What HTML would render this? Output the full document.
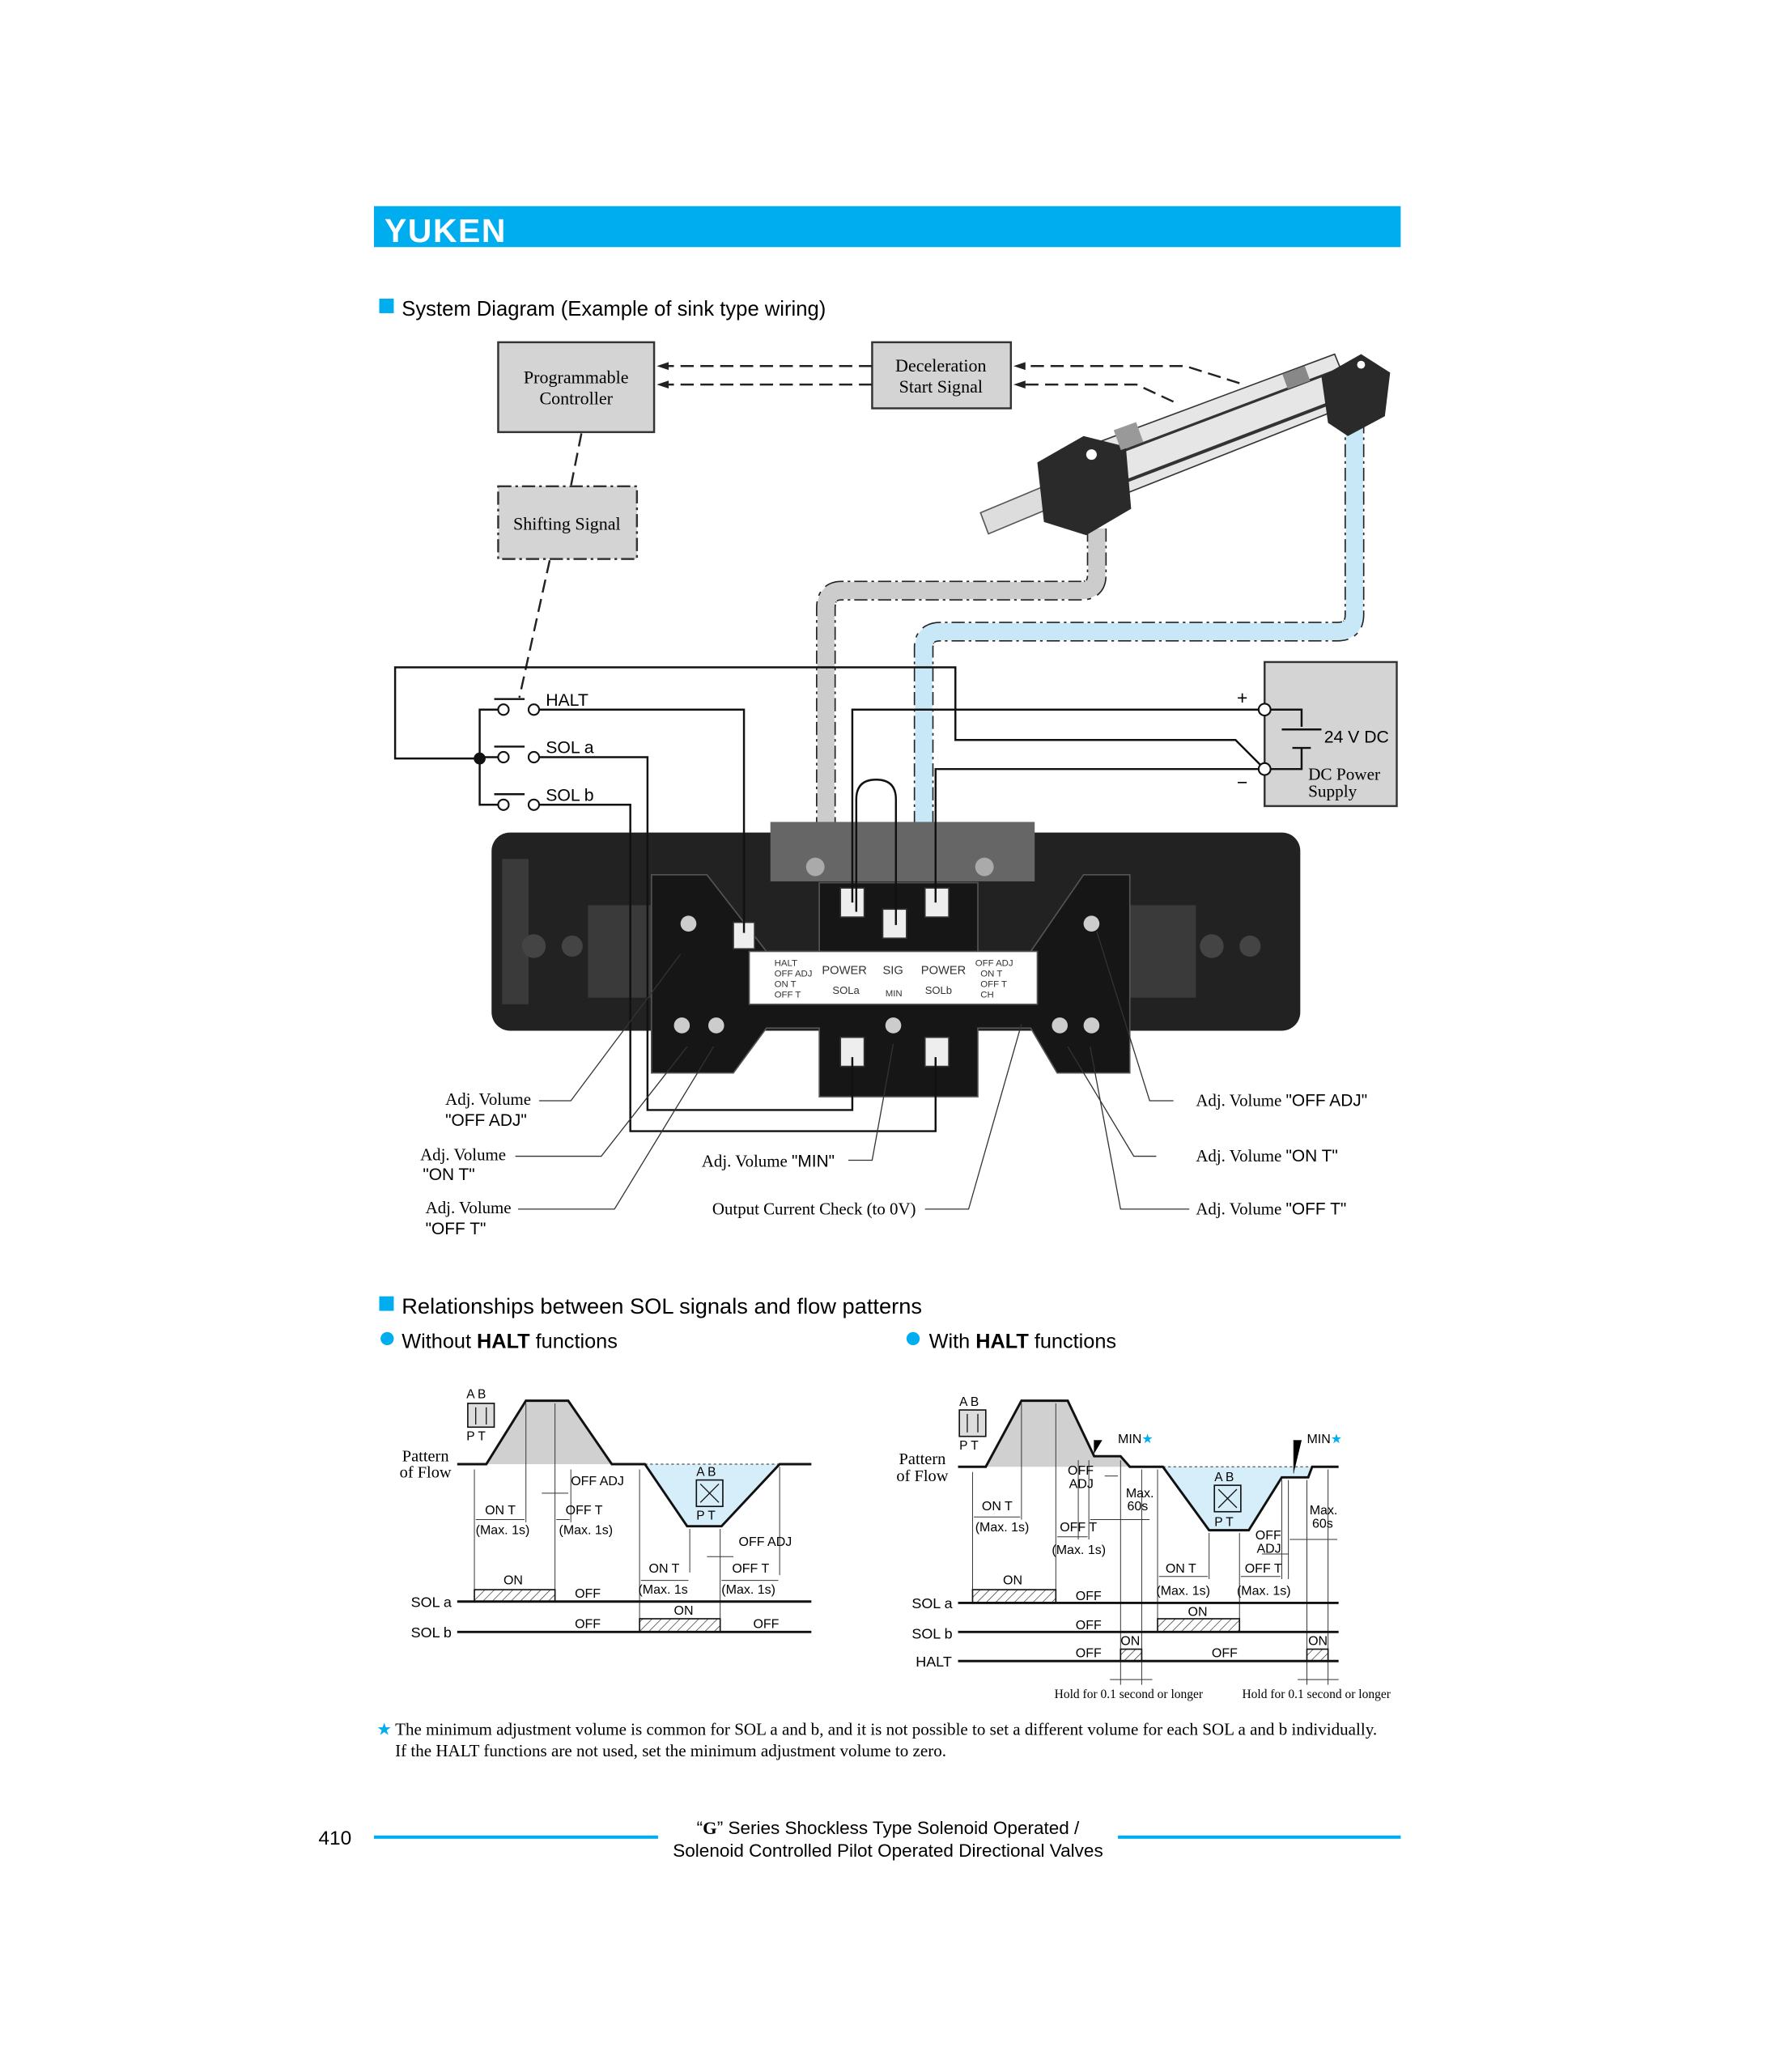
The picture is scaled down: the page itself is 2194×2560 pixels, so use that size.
<!DOCTYPE html>
<html><head><meta charset="utf-8"><style>
html,body{margin:0;padding:0;background:#fff}
svg{display:block}
.s{font-family:"Liberation Sans",sans-serif}
.r{font-family:"Liberation Serif",serif}
</style></head><body>
<svg width="2194" height="2560" viewBox="0 0 1344 1568" preserveAspectRatio="none" xmlns="http://www.w3.org/2000/svg">
<defs>
<pattern id="h" width="5" height="5" patternUnits="userSpaceOnUse" patternTransform="rotate(45)"><line x1="0" y1="0" x2="0" y2="5" stroke="#222" stroke-width="0.8"/></pattern>
</defs>
<rect width="1344" height="1568" fill="#fff"/>
<!-- header -->
<rect x="283" y="156" width="777" height="31" fill="#00aeef"/>
<text x="291" y="183" class="s" font-size="25" font-weight="bold" fill="#fff" letter-spacing="1">YUKEN</text>
<rect x="287" y="226" width="11" height="11" fill="#00aeef"/>
<text x="304" y="239" class="s" font-size="15.7">System Diagram (Example of sink type wiring)</text>

<!-- boxes -->
<rect x="377" y="259" width="118" height="68" fill="#d4d4d4" stroke="#333" stroke-width="1.5"/>
<text x="436" y="290" class="r" font-size="13.5" text-anchor="middle">Programmable</text>
<text x="436" y="306" class="r" font-size="13.5" text-anchor="middle">Controller</text>
<rect x="660" y="259" width="105" height="50" fill="#d4d4d4" stroke="#333" stroke-width="1.5"/>
<text x="712" y="281" class="r" font-size="13.5" text-anchor="middle">Deceleration</text>
<text x="712" y="297" class="r" font-size="13.5" text-anchor="middle">Start Signal</text>
<rect x="377" y="368" width="105" height="55" fill="#d4d4d4" stroke="#333" stroke-width="1.5" stroke-dasharray="10,3,2,3"/>
<text x="429" y="401" class="r" font-size="13.5" text-anchor="middle">Shifting Signal</text>

<g stroke="#222" stroke-width="1.5" fill="none" stroke-dasharray="10,5">
<line x1="660" y1="277" x2="503" y2="277"/><line x1="660" y1="291" x2="503" y2="291"/>
<polyline points="938,290 897,277 773,277"/><polyline points="888,304 860,291 773,291"/>
<line x1="440" y1="328" x2="432" y2="368"/><line x1="416" y1="424" x2="393" y2="528"/>
</g>
<g fill="#222"><path d="M497,277 l9,-3 v6z"/><path d="M497,291 l9,-3 v6z"/><path d="M767,277 l9,-3 v6z"/><path d="M767,291 l9,-3 v6z"/></g>

<!-- cables -->
<path d="M830,400 V435 Q830,447 818,447 H637 Q625,447 625,460 V630" fill="none" stroke="#222" stroke-width="15" stroke-dasharray="10,3,2,3"/>
<path d="M830,400 V435 Q830,447 818,447 H637 Q625,447 625,460 V630" fill="none" stroke="#ccc" stroke-width="13"/>
<path d="M1025,318 V465 Q1025,478 1012,478 H712 Q699,478 699,490 V630" fill="none" stroke="#222" stroke-width="15" stroke-dasharray="10,3,2,3"/>
<path d="M1025,318 V465 Q1025,478 1012,478 H712 Q699,478 699,490 V630" fill="none" stroke="#c8e8f8" stroke-width="13"/>

<!-- cylinder -->
<g>
<polygon points="790,350 1010,268 1025,305 805,392" fill="#e6e6e6" stroke="#333"/>
<line x1="795" y1="362" x2="1012" y2="280" stroke="#333" stroke-width="2"/>
<line x1="800" y1="384" x2="1020" y2="300" stroke="#333" stroke-width="2.5"/>
<polygon points="742,388 790,368 796,384 748,404" fill="#ddd" stroke="#555"/>
<polygon points="785,350 820,330 852,338 856,385 822,405 790,395" fill="#2a2a2a"/>
<polygon points="1000,285 1030,268 1052,282 1048,315 1020,330 1005,320" fill="#2a2a2a"/>
<circle cx="826" cy="344" r="4" fill="#fff"/><circle cx="1030" cy="276" r="3" fill="#fff"/>
<rect x="845" y="322" width="18" height="16" fill="#999" transform="rotate(-20 854 330)"/>
<rect x="972" y="280" width="18" height="12" fill="#888" transform="rotate(-20 980 286)"/>
</g>

<!-- valve body -->
<rect x="372" y="630" width="612" height="150" rx="14" fill="#222"/>
<rect x="380" y="650" width="20" height="110" fill="#3a3a3a"/>
<rect x="583" y="622" width="200" height="45" fill="#666"/>
<rect x="445" y="685" width="50" height="70" fill="#3a3a3a"/>
<rect x="855" y="685" width="50" height="70" fill="#3a3a3a"/>
<polygon points="493,662 535,662 580,720 620,720 620,668 740,668 740,720 780,720 820,662 855,662 855,812 800,812 780,778 740,778 740,830 620,830 620,778 580,778 555,812 493,812" fill="#161616" stroke="#555"/>
<g fill="#eee" stroke="#333"><rect x="636" y="672" width="18" height="22"/><rect x="668" y="688" width="18" height="22"/><rect x="700" y="672" width="18" height="22"/><rect x="555" y="698" width="16" height="20"/><rect x="636" y="785" width="18" height="22"/><rect x="700" y="785" width="18" height="22"/></g>
<g fill="#ccc"><circle cx="521" cy="699" r="6"/><circle cx="826" cy="699" r="6"/><circle cx="516" cy="776" r="6"/><circle cx="542" cy="776" r="6"/><circle cx="676" cy="776" r="6"/><circle cx="802" cy="776" r="6"/><circle cx="826" cy="776" r="6"/><circle cx="404" cy="716" r="9" fill="#444"/><circle cx="433" cy="716" r="8" fill="#444"/><circle cx="917" cy="716" r="9" fill="#444"/><circle cx="946" cy="716" r="8" fill="#444"/><circle cx="617" cy="656" r="7" fill="#aaa"/><circle cx="745" cy="656" r="7" fill="#aaa"/></g>
<rect x="567" y="720" width="218" height="40" fill="#fff" stroke="#555"/>
<g class="s" font-size="7" fill="#333"><text x="586" y="731">HALT</text><text x="586" y="739">OFF ADJ</text><text x="586" y="747">ON T</text><text x="586" y="755">OFF T</text><text x="622" y="737" font-size="9">POWER</text><text x="668" y="737" font-size="9">SIG</text><text x="697" y="737" font-size="9">POWER</text><text x="630" y="752" font-size="8">SOLa</text><text x="670" y="754">MIN</text><text x="700" y="752" font-size="8">SOLb</text><text x="738" y="731">OFF ADJ</text><text x="742" y="739">ON T</text><text x="742" y="747">OFF T</text><text x="742" y="755">CH</text></g>

<!-- wiring -->
<g stroke="#111" stroke-width="1.5" fill="none">
<polyline points="363,574 299,574 299,505 723,505 723,560 935,560 957,582"/>
<polyline points="381,537 363,537 363,609 381,609"/>
<line x1="363" y1="573" x2="377" y2="573"/>
<polyline points="408,537 563,537 563,706"/>
<polyline points="408,573 490,573 490,840 645,840 645,800"/>
<polyline points="408,609 477,609 477,856 708,856 708,800"/>
<polyline points="953,537 645,537 645,683"/>
<polyline points="953,582 708,582 708,683"/>
<path d="M648,690 V605 Q648,590 663,590 Q678,590 678,605 V700"/>
<line x1="374" y1="529" x2="397" y2="529"/><line x1="374" y1="565" x2="397" y2="565"/><line x1="374" y1="601" x2="397" y2="601"/>
</g>
<g fill="#fff" stroke="#111" stroke-width="1.3"><circle cx="381" cy="537" r="4"/><circle cx="404" cy="537" r="4"/><circle cx="381" cy="573" r="4"/><circle cx="404" cy="573" r="4"/><circle cx="381" cy="609" r="4"/><circle cx="404" cy="609" r="4"/></g>
<circle cx="363" cy="574" r="4.5" fill="#111"/>
<g class="s" font-size="13"><text x="413" y="534">HALT</text><text x="413" y="570">SOL a</text><text x="413" y="606">SOL b</text></g>

<!-- DC power -->
<rect x="957" y="501" width="100" height="109" fill="#d4d4d4" stroke="#333" stroke-width="1.5"/>
<g stroke="#111" stroke-width="1.5" fill="none"><polyline points="957,537 985,537 985,550"/><line x1="970" y1="552" x2="1000" y2="552"/><line x1="978" y1="566" x2="992" y2="566"/><polyline points="985,566 985,582 957,582"/></g>
<g fill="#fff" stroke="#111" stroke-width="1.3"><circle cx="957" cy="537" r="4.5"/><circle cx="957" cy="582" r="4.5"/></g>
<text x="1002" y="562" class="s" font-size="13">24 V DC</text>
<text x="990" y="590" class="r" font-size="13">DC Power</text><text x="990" y="603" class="r" font-size="13">Supply</text>
<text x="936" y="533" class="s" font-size="14">+</text><text x="936" y="597" class="s" font-size="14">−</text>

<!-- callouts -->
<g stroke="#333" stroke-width="0.8" fill="none">
<polyline points="408,833 432,833 515,722"/><polyline points="390,875 455,875 520,792"/><polyline points="392,915 465,915 540,792"/>
<polyline points="642,878 660,878 676,790"/><polyline points="700,915 733,915 773,775"/>
<polyline points="888,833 870,833 830,705"/><polyline points="875,875 858,875 808,792"/><polyline points="900,915 848,915 825,792"/>
</g>
<g font-size="12.8">
<text x="337" y="836" class="r">Adj. Volume</text><text x="337" y="852" class="s">"OFF ADJ"</text>
<text x="318" y="878" class="r">Adj. Volume</text><text x="320" y="893" class="s">"ON T"</text>
<text x="322" y="918" class="r">Adj. Volume</text><text x="322" y="934" class="s">"OFF T"</text>
<text x="531" y="883" class="r">Adj. Volume <tspan class="s">"MIN"</tspan></text>
<text x="539" y="919" class="r">Output Current Check (to 0V)</text>
<text x="905" y="837" class="r">Adj. Volume <tspan class="s">"OFF ADJ"</tspan></text>
<text x="905" y="879" class="r">Adj. Volume <tspan class="s">"ON T"</tspan></text>
<text x="905" y="919" class="r">Adj. Volume <tspan class="s">"OFF T"</tspan></text>
</g>

<!-- section 2 -->
<rect x="287" y="981" width="11" height="11" fill="#00aeef"/>
<text x="304" y="994" class="s" font-size="16.7">Relationships between SOL signals and flow patterns</text>
<circle cx="293" cy="1013" r="5" fill="#00aeef"/>
<text x="304" y="1020" class="s" font-size="15.5">Without  <tspan font-weight="bold">HALT</tspan> functions</text>
<circle cx="691" cy="1013" r="5" fill="#00aeef"/>
<text x="703" y="1020" class="s" font-size="15.5">With  <tspan font-weight="bold">HALT</tspan> functions</text>

<!-- left chart -->
<polygon points="368,1108 398,1060 430,1060 463,1108" fill="#d0d0d0"/>
<polygon points="488,1108 520,1155 546,1155 590,1108" fill="#d6eef9"/>
<line x1="488" y1="1108" x2="590" y2="1108" stroke="#555" stroke-dasharray="2,2" stroke-width="0.8"/>
<polyline points="346,1108 368,1108 398,1060 430,1060 463,1108 488,1108 520,1155 546,1155 590,1108 614,1108" fill="none" stroke="#111" stroke-width="1.8"/>
<rect x="354" y="1062" width="20" height="18" fill="#ddd" stroke="#111"/>
<g stroke="#111" stroke-width="0.8"><line x1="360" y1="1065" x2="360" y2="1078"/><line x1="368" y1="1065" x2="368" y2="1078"/></g>
<g class="s" font-size="9.5"><text x="353" y="1058">A  B</text><text x="353" y="1090">P  T</text></g>
<rect x="527" y="1120" width="20" height="20" fill="none" stroke="#111"/>
<g stroke="#111" stroke-width="0.8"><line x1="530" y1="1123" x2="544" y2="1137"/><line x1="544" y1="1123" x2="530" y2="1137"/></g>
<g class="s" font-size="9.5"><text x="527" y="1117">A  B</text><text x="527" y="1150">P  T</text></g>
<text x="322" y="1106" class="r" font-size="12.5" text-anchor="middle">Pattern</text><text x="322" y="1118" class="r" font-size="12.5" text-anchor="middle">of Flow</text>
<g stroke="#333" stroke-width="0.6">
<line x1="359" y1="1112" x2="359" y2="1205"/><line x1="398" y1="1062" x2="398" y2="1152"/><line x1="420" y1="1062" x2="420" y2="1205"/><line x1="432" y1="1112" x2="432" y2="1152"/><line x1="484" y1="1112" x2="484" y2="1225"/><line x1="522" y1="1157" x2="522" y2="1190"/><line x1="545" y1="1157" x2="545" y2="1225"/><line x1="590" y1="1110" x2="590" y2="1192"/>
<line x1="360" y1="1150" x2="397" y2="1150"/><line x1="421" y1="1150" x2="431" y2="1150"/><line x1="410" y1="1130" x2="430" y2="1130"/><line x1="485" y1="1196" x2="521" y2="1196"/><line x1="546" y1="1196" x2="589" y2="1196"/><line x1="535" y1="1178" x2="555" y2="1178"/>
</g>
<g class="s" font-size="9.8">
<text x="432" y="1124">OFF ADJ</text><text x="367" y="1146">ON T</text><text x="360" y="1161">(Max. 1s)</text><text x="428" y="1146">OFF T</text><text x="423" y="1161">(Max. 1s)</text>
<text x="559" y="1170">OFF ADJ</text><text x="491" y="1190">ON T</text><text x="483" y="1206">(Max. 1s</text><text x="554" y="1190">OFF T</text><text x="546" y="1206">(Max. 1s)</text>
<text x="381" y="1199">ON</text><text x="435" y="1209">OFF</text><text x="510" y="1222">ON</text><text x="435" y="1232">OFF</text><text x="570" y="1232">OFF</text>
</g>
<g class="s" font-size="11"><text x="311" y="1216">SOL a</text><text x="311" y="1239">SOL b</text></g>
<rect x="359" y="1203" width="61" height="9" fill="url(#h)" stroke="#111"/>
<rect x="484" y="1225" width="61" height="10" fill="url(#h)" stroke="#111"/>
<g stroke="#111" stroke-width="1.8"><line x1="346" y1="1212" x2="614" y2="1212"/><line x1="346" y1="1235" x2="614" y2="1235"/></g>

<!-- right chart -->
<polygon points="746,1110 773,1060 808,1060 828,1102 848,1102 855,1110" fill="#d0d0d0"/>
<polygon points="880,1110 915,1158 945,1158 970,1118 990,1118 993,1110" fill="#d6eef9"/>
<line x1="880" y1="1110" x2="993" y2="1110" stroke="#555" stroke-dasharray="2,2" stroke-width="0.8"/>
<polyline points="725,1110 746,1110 773,1060 808,1060 828,1102 848,1102 855,1110 880,1110 915,1158 945,1158 970,1118 990,1118 993,1110 1013,1110" fill="none" stroke="#111" stroke-width="1.8"/>
<rect x="726" y="1067" width="20" height="20" fill="#ddd" stroke="#111"/>
<g stroke="#111" stroke-width="0.8"><line x1="732" y1="1070" x2="732" y2="1084"/><line x1="740" y1="1070" x2="740" y2="1084"/></g>
<g class="s" font-size="9.5"><text x="726" y="1064">A  B</text><text x="726" y="1097">P  T</text></g>
<rect x="919" y="1124" width="20" height="20" fill="none" stroke="#111"/>
<g stroke="#111" stroke-width="0.8"><line x1="922" y1="1127" x2="936" y2="1141"/><line x1="936" y1="1127" x2="922" y2="1141"/></g>
<g class="s" font-size="9.5"><text x="919" y="1121">A  B</text><text x="919" y="1155">P  T</text></g>
<text x="698" y="1108" class="r" font-size="12.5" text-anchor="middle">Pattern</text><text x="698" y="1121" class="r" font-size="12.5" text-anchor="middle">of Flow</text>
<g stroke="#333" stroke-width="0.6">
<line x1="736" y1="1114" x2="736" y2="1205"/><line x1="773" y1="1062" x2="773" y2="1150"/><line x1="799" y1="1062" x2="799" y2="1205"/><line x1="816" y1="1105" x2="816" y2="1165"/><line x1="824" y1="1105" x2="824" y2="1165"/><line x1="848" y1="1105" x2="848" y2="1275"/><line x1="864" y1="1112" x2="864" y2="1275"/><line x1="876" y1="1112" x2="876" y2="1225"/><line x1="915" y1="1160" x2="915" y2="1195"/><line x1="938" y1="1160" x2="938" y2="1225"/><line x1="970" y1="1120" x2="970" y2="1195"/><line x1="975" y1="1120" x2="975" y2="1195"/><line x1="989" y1="1120" x2="989" y2="1275"/><line x1="1005" y1="1112" x2="1005" y2="1275"/>
<line x1="737" y1="1148" x2="772" y2="1148"/><line x1="800" y1="1163" x2="823" y2="1163"/><line x1="836" y1="1117" x2="846" y2="1117"/><line x1="825" y1="1150" x2="870" y2="1150"/><line x1="877" y1="1193" x2="914" y2="1193"/><line x1="939" y1="1193" x2="969" y2="1193"/><line x1="955" y1="1176" x2="975" y2="1176"/><line x1="976" y1="1165" x2="1012" y2="1165"/>
<polyline points="834,1090 828,1090 828,1100"/><polyline points="985,1090 979,1090 979,1115"/>
<line x1="840" y1="1271" x2="872" y2="1271"/><line x1="982" y1="1271" x2="1013" y2="1271"/>
</g>
<g class="s" font-size="9.8">
<text x="846" y="1092">MIN<tspan fill="#00aeef">★</tspan></text><text x="989" y="1092">MIN<tspan fill="#00aeef">★</tspan></text>
<text x="808" y="1116">OFF</text><text x="809" y="1126">ADJ</text><text x="852" y="1133">Max.</text><text x="853" y="1143">60s</text>
<text x="743" y="1143">ON T</text><text x="738" y="1159">(Max. 1s)</text><text x="802" y="1159">OFF T</text><text x="796" y="1176">(Max. 1s)</text>
<text x="950" y="1165">OFF</text><text x="951" y="1175">ADJ</text><text x="991" y="1146">Max.</text><text x="993" y="1156">60s</text>
<text x="882" y="1190">ON T</text><text x="875" y="1207">(Max. 1s)</text><text x="942" y="1190">OFF T</text><text x="936" y="1207">(Max. 1s)</text>
<text x="759" y="1199">ON</text><text x="814" y="1211">OFF</text><text x="899" y="1223">ON</text><text x="814" y="1233">OFF</text><text x="814" y="1254">OFF</text><text x="848" y="1245">ON</text><text x="917" y="1254">OFF</text><text x="990" y="1245">ON</text>
</g>
<g class="s" font-size="11"><text x="690" y="1217">SOL a</text><text x="690" y="1240">SOL b</text><text x="693" y="1261">HALT</text></g>
<rect x="736" y="1203" width="63" height="10" fill="url(#h)" stroke="#111"/>
<rect x="876" y="1225" width="62" height="10" fill="url(#h)" stroke="#111"/>
<rect x="848" y="1248" width="16" height="9" fill="url(#h)" stroke="#111"/>
<rect x="989" y="1248" width="16" height="9" fill="url(#h)" stroke="#111"/>
<g stroke="#111" stroke-width="1.8"><line x1="725" y1="1213" x2="1013" y2="1213"/><line x1="725" y1="1235" x2="1013" y2="1235"/><line x1="725" y1="1257" x2="1013" y2="1257"/></g>
<g class="r" font-size="9.5"><text x="798" y="1285">Hold for 0.1 second or longer</text><text x="940" y="1285">Hold for 0.1 second or longer</text></g>

<!-- footnote -->
<text x="285" y="1313" class="s" font-size="13" fill="#00aeef">★</text>
<text x="299" y="1313" class="r" font-size="12.9">The minimum adjustment volume is common for SOL a and b, and it is not possible to set a different volume for each SOL a and b individually.</text>
<text x="299" y="1329" class="r" font-size="12.9">If the HALT functions are not used, set the minimum adjustment volume to zero.</text>

<!-- footer -->
<text x="241" y="1396" class="s" font-size="15">410</text>
<rect x="283" y="1389" width="215" height="2.5" fill="#00aeef"/>
<rect x="846" y="1389" width="214" height="2.5" fill="#00aeef"/>
<text x="672" y="1388" class="s" font-size="13.8" text-anchor="middle">“<tspan font-weight="bold" font-family="Liberation Serif,serif">G</tspan>” Series Shockless Type Solenoid Operated /</text>
<text x="672" y="1405" class="s" font-size="13.8" text-anchor="middle">Solenoid Controlled Pilot Operated Directional Valves</text>
</svg>
</body></html>
